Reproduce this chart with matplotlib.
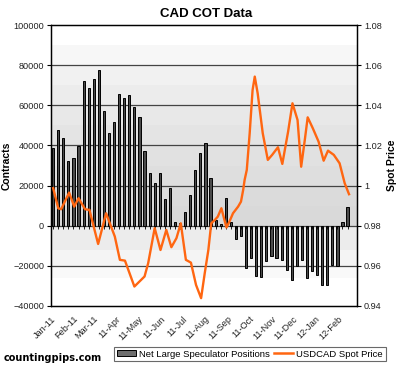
import numpy as np
import pandas as pd
import matplotlib
matplotlib.use('Agg')
import matplotlib.pyplot as plt
from matplotlib.patches import Patch
from matplotlib.lines import Line2D
from matplotlib.ticker import FuncFormatter

# weekly net large speculator positions (contracts)
week_start = '2011-01-04'
net_positions = [38900, 47900, 43900, 32000, 33900, 39900, 72300, 68700, 73200,
                 77800, 57400, 46200, 51500, 65700, 63700, 65300, 59000, 54200,
                 37400, 26300, 21300, 26300, 13300, 18800, 2100, 1500, 6600,
                 15500, 27900, 36200, 41200, 23800, 3000, 1000, 13800, 2100,
                 -6600, -5300, -21100, -16100, -25300, -25600, -17800, -15300,
                 -16100, -17000, -21900, -26900, -20300, -17000, -26100, -22800,
                 -24400, -29400, -29400, -19500, -20300, 2000, 9500]

# USDCAD spot price, days counted from week_start
spot_days = [0, 7, 11, 22, 29, 35, 44, 50, 62, 73, 85, 92, 99, 112, 126, 131,
             140, 148, 156, 163, 170, 176, 183, 190, 197, 204, 209, 214, 218,
             223, 227, 232, 235, 239, 243, 248, 255, 259, 262, 264, 267, 271,
             275, 278, 282, 289, 296, 302, 310, 316, 324, 330, 337, 342, 347,
             351, 358, 366, 373, 379, 387, 395, 402, 408]
spot_price = [0.9987, 0.9887, 0.9882, 0.9965, 0.9895, 0.9937, 0.9882, 0.9879,
              0.9709, 0.9862, 0.9746, 0.9630, 0.9626, 0.9497, 0.9547, 0.9613,
              0.9788, 0.9679, 0.9779, 0.9693, 0.9738, 0.9812, 0.9630, 0.9616,
              0.9505, 0.9439, 0.9563, 0.9679, 0.9812, 0.9829, 0.9845, 0.9887,
              0.9845, 0.9791, 0.9820, 0.9862, 0.9895, 0.9920, 0.9978, 1.0028,
              1.0078, 1.0261, 1.0476, 1.0543, 1.0460, 1.0261, 1.0128, 1.0153,
              1.0191, 1.0108, 1.0269, 1.0410, 1.0327, 1.0094, 1.0227, 1.0340,
              1.0286, 1.0219, 1.0124, 1.0174, 1.0153, 1.0111, 1.0012, 0.9957]

month_labels = ['Jan-11', 'Feb-11', 'Mar-11', '11-Apr', '11-May', '11-Jun',
                '11-Jul', '11-Aug', '11-Sep', '11-Oct', '11-Nov', '11-Dec',
                '12-Jan', '12-Feb']

plt.rcParams['font.family'] = ['Liberation Sans', 'DejaVu Sans']

start = pd.Timestamp(week_start)
bar_dates = pd.date_range(start, periods=len(net_positions), freq='7D')
spot_dates = start + pd.to_timedelta(spot_days, unit='D')
month_ticks = pd.date_range('2011-01-01', periods=len(month_labels), freq='MS')

fig = plt.figure(figsize=(4.0, 3.68), dpi=100)
ax = fig.add_axes([0.1275, 0.1685, 0.765, 0.7635])
ax2 = ax.twinx()

# shaded horizontal bands behind the plot
bands = [(90000, 100000, '#ffffff'), (80000, 90000, '#f7f7f7'),
         (70000, 80000, '#f1f1f1'), (60000, 70000, '#ececec'),
         (50000, 60000, '#e8e8e8'), (40000, 50000, '#e4e4e4'),
         (30000, 40000, '#e1e1e1'), (20000, 30000, '#dedede'),
         (10000, 20000, '#dbdbdb'), (0, 10000, '#d9d9d9'),
         (-12000, 0, '#ececec'), (-20000, -12000, '#f4f4f4'),
         (-26000, -20000, '#f9f9f9'), (-40000, -26000, '#ffffff')]
for lo, hi, c in bands:
    ax.axhspan(lo, hi, color=c, lw=0, zorder=0)

for yv in range(-20000, 100000, 20000):
    ax.axhline(yv, color='#444444', lw=0.9, zorder=1)

ax.bar(bar_dates, net_positions, width=3.0, color='#4a4a4a',
       edgecolor='black', linewidth=0.7, zorder=2)
ax.vlines(bar_dates, -1400, 0, color='black', lw=0.6, zorder=3)

ax.set_xlim(pd.Timestamp('2011-01-01'), pd.Timestamp('2012-02-27'))
ax.set_ylim(-40000, 100000)
ax.set_yticks(range(-40000, 100001, 20000))
ax.set_xticks(month_ticks)
ax.set_xticklabels(month_labels, rotation=45, ha='right', rotation_mode='anchor')
ax.tick_params(axis='x', length=0, pad=6, labelsize=6.6, colors='#222222')
ax.tick_params(axis='y', length=3, pad=2, labelsize=6.6, colors='#222222')
ax.tick_params(axis='y', color='black')
ax.set_ylabel('Contracts', fontsize=7.5, fontweight='bold', labelpad=1)

ax2.plot(spot_dates, spot_price, color='#ff6611', lw=1.7, zorder=4)
ax2.set_ylim(0.94, 1.08)
ax2.set_yticks(np.arange(0.94, 1.081, 0.02))
ax2.yaxis.set_major_formatter(FuncFormatter(lambda v, p: '%g' % round(v, 2)))
ax2.tick_params(axis='y', length=3, pad=2, labelsize=6.6, colors='#222222')
ax2.tick_params(axis='y', color='black')
ax2.set_ylabel('Spot Price', fontsize=7.5, fontweight='bold', labelpad=4)

for a in (ax, ax2):
    for s in a.spines.values():
        s.set_color('black')
        s.set_linewidth(0.9)

fig.text(0.515, 0.962, 'CAD COT Data', ha='center', va='center',
         fontsize=9.5, fontweight='bold')
fig.text(0.008, 0.028, 'countingpips.com', ha='left', va='center',
         fontsize=7, fontweight='bold', family='DejaVu Sans')

handles = [Patch(facecolor='#6e6e6e', edgecolor='black', lw=0.7),
           Line2D([], [], color='#ff6611', lw=1.8)]
leg = fig.legend(handles, ['Net Large Speculator Positions', 'USDCAD Spot Price'],
                 loc='center', bbox_to_anchor=(0.625, 0.038), ncol=2,
                 fontsize=6.8, frameon=True, fancybox=False, handlelength=2.0,
                 handleheight=0.6, handletextpad=0.3, columnspacing=0.5,
                 borderpad=0.3, borderaxespad=0)
leg.get_frame().set_edgecolor('#444444')
leg.get_frame().set_linewidth(0.8)

fig.savefig('out.png', dpi=100)
